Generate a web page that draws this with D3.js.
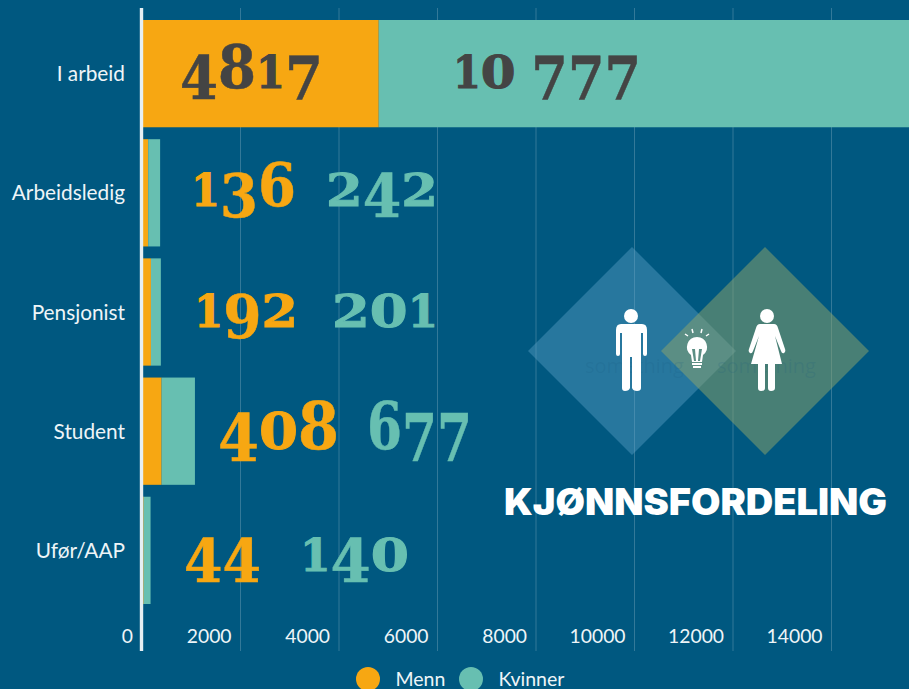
<!DOCTYPE html>
<html>
<head>
<meta charset="utf-8">
<script src="https://cdn.jsdelivr.net/npm/d3@7"></script>
<style>
  html, body { margin: 0; padding: 0; background: #005880; overflow: hidden; }
  svg { display: block; }
  .axis text { font-family: Lato, sans-serif; font-size: 19.3px; fill: #eef5f8; }
  .axis.cats text { font-size: 20.8px; }
</style>
</head>
<body>
<div id="chart"></div>
<script>
const categories = ["I arbeid", "Arbeidsledig", "Pensjonist", "Student", "Uf\u00f8r/AAP"];
const menn = [4817, 136, 192, 408, 44];
const kvinner = [10777, 242, 201, 677, 140];
const seriesNames = ["Menn", "Kvinner"];
const xTicks = [0, 2000, 4000, 6000, 8000, 10000, 12000, 14000];

// where the big numbers sit: left/right of each number, baseline, size factor
const labelLayout = [
  { m: [180, 323], k: [453, 641], y: 88, s: 1 },
  { m: [191, 296], k: [326, 438], y: 206, s: 1 },
  { m: [194, 298], k: [332, 438], y: 327, s: 1 },
  { m: [218, 339], k: [367, 472], y: 449, s: 1.1 },
  { m: [184, 261], k: [300, 409], y: 571, s: 1 }
];

const width = 909, height = 689;
const orange = "#f7a712", teal = "#67bfb1", dark = "#444444";

const svg = d3.select("#chart").append("svg")
  .attr("width", width)
  .attr("height", height);

const x = d3.scaleLinear().domain([0, 14000]).range([141.5, 831]);
const y = d3.scaleBand().domain(categories).range([20, 604]).paddingInner(0.1);

// grid + x labels
const xAxis = svg.append("g")
  .attr("class", "axis")
  .attr("transform", "translate(0,8)")
  .call(d3.axisBottom(x).tickValues(xTicks).tickSize(643).tickFormat(d3.format("d")));
xAxis.select(".domain").remove();
xAxis.selectAll("line").attr("stroke", "#ffffff").attr("stroke-opacity", 0.2).attr("stroke-width", 1);
xAxis.selectAll("text")
  .attr("text-anchor", "end")
  .attr("dx", -9)
  .attr("y", 635)
  .attr("dy", 0);

// diamonds behind everything but the grid
const diamond = (cx, cy, r) => `M${cx - r},${cy}L${cx},${cy - r}L${cx + r},${cy}L${cx},${cy + r}Z`;
svg.append("path").attr("d", diamond(632, 351, 104)).attr("fill", "#5da3c9").attr("fill-opacity", 0.42);
svg.append("path").attr("d", diamond(765, 351, 104)).attr("fill", "#8fa66a").attr("fill-opacity", 0.5);

// very faint leftover text in the original
svg.selectAll("text.ghost").data(["something", "something"]).join("text")
  .attr("class", "ghost")
  .attr("x", (d, i) => i ? 717 : 585)
  .attr("y", 373)
  .attr("font-family", "Open Sans, sans-serif")
  .attr("font-size", 20)
  .attr("fill", "#1a5a80")
  .attr("fill-opacity", 0.16)
  .text(d => d);

// stacked bars
const rows = categories.map((c, i) => ({ category: c, Menn: menn[i], Kvinner: kvinner[i] }));
const stacked = d3.stack().keys(seriesNames)(rows);
const color = d3.scaleOrdinal().domain(seriesNames).range([orange, teal]);

svg.append("g")
  .selectAll("g")
  .data(stacked)
  .join("g")
  .attr("fill", d => color(d.key))
  .selectAll("rect")
  .data(d => d)
  .join("rect")
  .attr("x", d => x(d[0]))
  .attr("y", d => y(d.data.category))
  .attr("width", d => x(d[1]) - x(d[0]))
  .attr("height", y.bandwidth());

// zero line
svg.append("rect")
  .attr("x", x(0) - 1.7).attr("y", 8)
  .attr("width", 3.4).attr("height", 643)
  .attr("fill", "#e6eff3");

// category labels
const yAxis = svg.append("g")
  .attr("class", "axis cats")
  .attr("transform", "translate(125,1)")
  .call(d3.axisLeft(y).tickSize(0).tickPadding(0));
yAxis.select(".domain").remove();

// big numbers. No installed serif has old-style figures, so fake them digit by digit
function digitStyle(ch) {
  if ("02".includes(ch)) return { size: 45, shift: 0, adv: 40, bold: 1 };
  if (ch === "1") return { size: 45, shift: 0, adv: 32, bold: 1 };
  if ("68".includes(ch)) return { size: 60, shift: 0, adv: 42, bold: 0.5 };
  if ("34579".includes(ch)) return { size: 60, shift: 11, adv: 42, bold: 0.5 };
  return { size: 30, shift: 0, adv: 18, bold: 0 };
}

function bigNumber(value, box, baseline, scale, fill) {
  const label = value >= 10000 ? d3.format(",")(value).replace(",", " ") : String(value);
  const g = svg.append("g");
  const text = g.append("text")
    .attr("font-family", "DejaVu Serif, serif")
    .attr("font-weight", 700)
    .attr("fill", fill)
    .attr("stroke", fill)
    .attr("xml:space", "preserve");
  let prev = 0, total = 0;
  label.split("").forEach(ch => {
    const st = digitStyle(ch);
    text.append("tspan")
      .attr("font-size", st.size * scale)
      .attr("dy", (st.shift - prev) * scale)
      .attr("stroke-width", st.bold)
      .attr("textLength", st.adv * scale)
      .attr("lengthAdjust", "spacingAndGlyphs")
      .text(ch);
    prev = st.shift;
    total += st.adv * scale;
  });
  g.attr("transform", `translate(${box[0]},${baseline}) scale(${(box[1] - box[0]) / total},1)`);
}

labelLayout.forEach((l, i) => {
  bigNumber(menn[i], l.m, l.y, l.s, i === 0 ? dark : orange);
  bigNumber(kvinner[i], l.k, l.y, l.s, i === 0 ? dark : teal);
});

// icons
const icons = svg.append("g").attr("fill", "#ffffff");
icons.append("circle").attr("cx", 631).attr("cy", 316).attr("r", 7);
icons.append("path").attr("d",
  "M621,324L642,324Q647,324 647,330L647,354Q647,356 645,356Q643,356 643,354L643,333L641,333L641,388Q641,391 637,391Q633,391 632,388L632,357L630,357L630,388Q629,391 625,391Q622,391 622,388L622,333L620,333L620,354Q620,356 618,356Q616,356 616,354L616,330Q616,324 621,324Z");
icons.append("circle").attr("cx", 767).attr("cy", 316).attr("r", 7);
icons.append("path").attr("d",
  "M760,324L774,324Q777,324 778,328L785,349Q786,352 784,353Q782,354 781,351L775,336L782,364L775,364L775,388Q775,391 771,391Q768,391 768,388L768,364L765,364L765,388Q765,391 761,391Q758,391 758,388L758,364L751,364L759,336L753,351Q752,354 750,353Q748,352 749,349L756,328Q757,324 760,324Z");

const bulb = svg.append("g").attr("fill", "#ffffff");
bulb.append("path").attr("fill-rule", "evenodd").attr("d",
  "M697,337A10,10 0 0 1 703,355L702,362L692,362L691,355A10,10 0 0 1 697,337ZM692,349L694,361L696,361L695,349ZM702,349L699,349L698,361L700,361Z");
bulb.append("rect").attr("x", 692).attr("y", 363).attr("width", 10).attr("height", 2);
bulb.append("rect").attr("x", 693).attr("y", 366).attr("width", 8).attr("height", 2);
bulb.append("path").attr("stroke", "#ffffff").attr("stroke-width", 1.5).attr("fill", "none").attr("d",
  "M685,334L688,336M692,329L693,333M702,329L701,333M709,334L706,336");

// title
svg.append("text")
  .attr("x", 504).attr("y", 515)
  .attr("font-family", "Inter, sans-serif")
  .attr("font-weight", 900)
  .attr("font-size", 37)
  .attr("fill", "#ffffff")
  .attr("textLength", 383)
  .attr("lengthAdjust", "spacingAndGlyphs")
  .text("KJ\u00d8NNSFORDELING");

// legend
const legendX = d3.scalePoint().domain(seriesNames).range([368, 471]);
const legend = svg.append("g").selectAll("g").data(seriesNames).join("g")
  .attr("transform", d => `translate(${legendX(d)},679)`);
legend.append("circle").attr("r", 12).attr("fill", d => color(d));
legend.append("text")
  .attr("x", 27.5).attr("y", 7)
  .attr("font-family", "Lato, sans-serif")
  .attr("font-size", 19.5)
  .attr("fill", "#eef5f8")
  .text(d => d);
</script>
</body>
</html>
